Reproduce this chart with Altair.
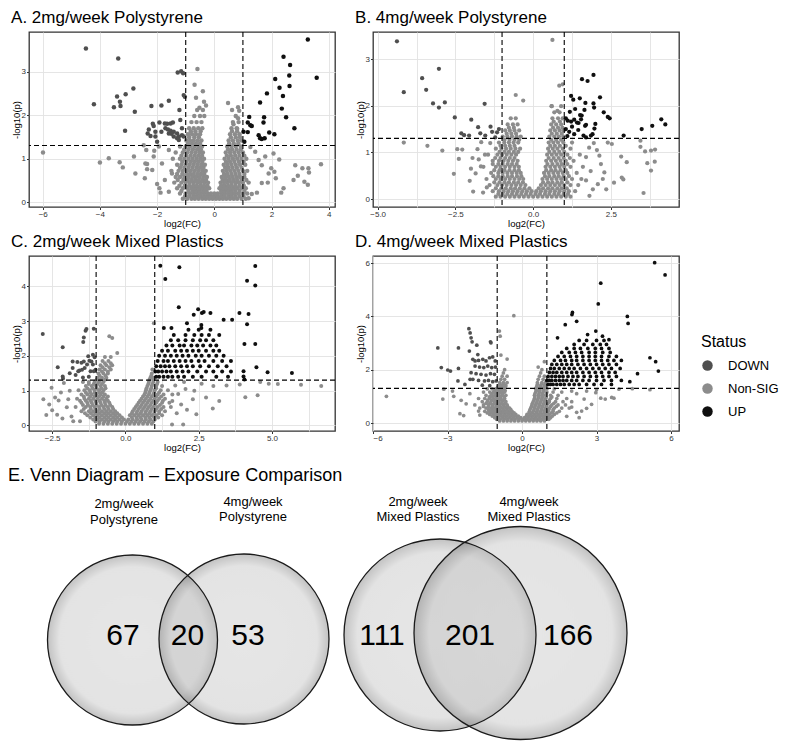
import altair as alt
import pandas as pd

STATUS = ["DOWN", "Non-SIG", "UP"]
STATUS_COLORS = ["#4f4f4f", "#8c8c8c", "#0f0f0f"]
FC_CUTS = [-1.0, 1.0]
P_CUT = [1.30103]

# ---------------- Panel A: 2mg/week Polystyrene ----------------
A_DOWN = [(-4.49,3.53),(-3.36,3.30),(-2.83,2.61),(-3.10,2.48),(-3.40,2.43),(-3.30,2.31),(-3.28,2.21),(-3.51,2.18),
          (-4.21,2.25),(-2.78,2.08),(-2.20,2.21),(-1.85,2.22),(-1.59,2.33),(-3.12,1.64),(-1.28,2.98),(-1.16,3.01),
          (-1.09,2.96),(-1.07,2.46),(-1.03,2.42),(-1.22,2.12),(-2.15,1.80),(-2.12,1.75),(-2.29,1.67),(-2.33,1.58),
          (-2.23,1.52),(-1.92,1.83),(-1.73,1.81),(-1.65,1.80),(-1.53,1.81),(-1.45,1.83),(-1.71,1.70),(-1.62,1.67),
          (-1.53,1.64),(-1.42,1.62),(-1.59,1.58),(-1.50,1.57),(-1.42,1.51),(-2.06,1.51),(-2.00,1.39),(-1.30,1.58),
          (-1.24,1.51),(-1.13,1.54),(-1.07,1.51),(-1.13,1.70),(-1.19,1.89),(-2.06,1.62),(-1.85,1.62),(-1.30,1.47),
          (-1.24,1.43)]
A_UP = [(3.27,3.74),(3.58,2.86),(2.42,3.34),(2.65,3.15),(2.62,2.91),(2.63,2.67),(2.28,2.63),(2.13,2.83),(2.40,2.44),
        (1.84,2.50),(2.36,2.15),(2.51,1.95),(2.80,1.70),(1.60,2.29),(1.22,1.96),(1.74,1.95),(1.17,1.83),(1.26,1.77),
        (1.31,1.75),(1.72,1.83),(1.02,1.62),(1.17,1.61),(1.55,1.54),(1.60,1.47),(1.76,1.47),(1.66,1.45),(1.92,1.60),
        (2.10,1.56),(1.05,1.39)]
A_NS = [(-5.99,1.14),(-4.00,0.91),(-3.69,1.01),(-3.31,0.92),(-3.20,0.80),(-2.47,1.31),(-2.38,1.20),(-2.41,0.89),
        (-2.35,0.88),(-2.43,0.55),(-2.00,0.42),(-1.92,0.32),(-1.88,0.22),(-1.73,0.51),(-2.35,0.76),(-2.10,1.18),
        (-1.94,1.28),(-0.59,3.06),(-0.69,2.70),(-0.40,2.55),(-0.64,2.40),(-0.36,2.31),(-0.52,2.17),(-0.29,2.22),
        (0.48,2.28),(0.62,2.12),(0.83,2.18),(0.87,2.10),(0.83,1.93),(0.67,1.79),(0.80,1.69),(2.83,0.85),(3.08,0.78),
        (3.29,0.78),(3.31,0.68),(3.73,0.87),(2.92,0.61),(3.15,0.47),(3.27,0.40),(2.77,0.51),(2.42,0.32),(2.34,0.22),
        (1.90,0.66),(2.15,0.55),(2.10,0.70),(1.87,0.45),(1.66,0.44),(1.49,0.22),(1.31,0.19),(1.20,0.09),(1.78,1.05),
        (2.07,1.12),(1.43,1.16),(1.55,0.97),(2.27,0.98),(1.99,0.78),(1.66,0.85),(1.26,1.27),(-2.81,1.05),(-2.76,0.66),
        (-2.12,1.05),(-1.59,1.20),(-1.83,0.89),(-1.48,0.66),(-2.17,0.74),(-1.59,0.24)]
A_NS_BANDS = {
    0.08: [-1.1,-0.95,-0.8,-0.68,-0.55,-0.42,-0.3,-0.18,-0.06,0.06,0.18,0.3,0.42,0.55,0.68,0.8,0.95,1.1],
    0.14: [-1.02,-0.88,-0.74,-0.61,-0.49,-0.36,-0.24,-0.12,0.0,0.12,0.24,0.36,0.49,0.61,0.74,0.88,1.02],
    0.20: [-1.2,-1.0,-0.85,-0.72,-0.6,-0.48,-0.36,-0.24,-0.12,0.0,0.12,0.24,0.36,0.48,0.6,0.72,0.85,1.0,1.15],
    0.26: [-1.15,-0.9,-0.76,-0.64,-0.51,-0.39,-0.27,0.24,0.36,0.48,0.6,0.73,0.88,1.05],
    0.32: [-1.3,-1.1,-0.95,-0.8,-0.67,-0.54,-0.42,-0.3,-0.18,0.18,0.3,0.42,0.54,0.67,0.8,0.95,1.1],
    0.38: [-1.22,-1.03,-0.88,-0.74,-0.61,-0.48,-0.36,-0.24,0.24,0.36,0.48,0.61,0.74,0.88,1.03],
    0.45: [-1.4,-1.15,-1.0,-0.86,-0.73,-0.6,-0.47,-0.34,-0.22,0.22,0.34,0.47,0.6,0.73,0.86,1.0,1.2],
    0.51: [-1.28,-1.08,-0.93,-0.8,-0.67,-0.54,-0.41,-0.29,0.29,0.41,0.54,0.67,0.8,0.95,1.12],
    0.58: [-1.35,-1.2,-1.05,-0.9,-0.77,-0.64,-0.51,-0.38,-0.26,0.26,0.38,0.51,0.64,0.77,0.9,1.05],
    0.65: [-1.3,-1.12,-0.98,-0.85,-0.72,-0.59,-0.47,-0.35,0.34,0.46,0.6,0.74,0.88,1.05],
    0.72: [-1.5,-1.25,-1.1,-0.95,-0.82,-0.68,-0.55,-0.42,-0.3,0.3,0.43,0.56,0.7,0.84,1.0,1.15],
    0.79: [-1.2,-1.05,-0.9,-0.76,-0.62,-0.5,-0.38,0.38,0.5,0.64,0.79,0.95],
    0.86: [-1.3,-1.15,-1.0,-0.86,-0.72,-0.58,-0.45,-0.33,0.33,0.46,0.6,0.75,0.9,1.08],
    0.93: [-1.12,-0.97,-0.82,-0.68,-0.55,-0.42,0.41,0.55,0.7,0.86,1.02],
    1.00: [-1.45,-1.2,-1.05,-0.9,-0.76,-0.62,-0.49,-0.36,0.36,0.5,0.65,0.8,0.95,1.12],
    1.07: [-1.15,-0.98,-0.83,-0.69,-0.56,-0.43,0.44,0.58,0.73,0.88,1.05],
    1.14: [-1.35,-1.1,-0.95,-0.8,-0.66,-0.52,-0.4,0.4,0.55,0.7,0.85,1.0],
    1.21: [-1.05,-0.9,-0.75,-0.6,-0.47,0.48,0.62,0.78,0.93],
    1.28: [-1.2,-1.0,-0.85,-0.7,-0.56,-0.43,0.45,0.6,0.75,0.92],
    1.35: [-0.92,-0.78,-0.64,-0.5,0.52,0.68,0.84],
    1.42: [-0.98,-0.85,-0.72,-0.58,-0.45,0.5,0.65,0.82,0.95],
    1.49: [-0.88,-0.7,-0.54,0.58,0.75,0.9],
    1.56: [-0.92,-0.78,-0.64,-0.5,0.55,0.72,0.88],
    1.63: [-0.82,-0.66,-0.48,0.62,0.8],
    1.70: [-0.88,-0.72,-0.56,-0.42,0.6,0.78],
    1.84: [-0.8,-0.62,-0.45,0.65,0.85],
    1.98: [-0.7,-0.5,-0.35,0.75],
    2.12: [-0.6,-0.4],
}

# ---------------- Panel B: 4mg/week Polystyrene ----------------
B_DOWN = [(-4.38,3.38),(-4.16,2.29),(-3.03,2.79),(-3.57,2.59),(-3.44,2.34),(-3.22,2.05),(-3.03,1.96),(-2.84,2.07),
          (-2.52,1.75),(-1.99,1.70),(-1.56,2.04),(-1.77,1.54),(-1.37,1.55),(-2.31,1.41),(-2.22,1.37),(-2.06,1.36),
          (-1.70,1.41),(-1.54,1.36),(-1.32,1.44),(-1.22,1.32),(-1.10,1.50),(-1.16,1.43)]
B_UP = [(1.57,2.57),(1.75,2.53),(1.94,2.66),(1.22,2.21),(1.29,2.13),(1.50,2.16),(1.68,2.06),(2.15,2.18),(1.94,2.05),
        (1.96,1.96),(1.35,1.93),(1.18,1.87),(1.65,1.91),(1.51,1.80),(1.56,1.79),(2.27,1.86),(2.40,1.76),(2.46,1.73),
        (1.05,1.73),(1.11,1.68),(1.22,1.66),(1.32,1.70),(1.41,1.64),(1.46,1.63),(1.54,1.71),(1.70,1.59),(2.00,1.61),
        (1.05,1.50),(1.16,1.44),(1.32,1.39),(1.45,1.48),(1.62,1.36),(1.70,1.32),(1.86,1.36),(1.91,1.39),(1.97,1.51),
        (1.67,1.57),(2.91,1.36),(3.49,1.50),(3.83,1.57),(4.12,1.71),(4.25,1.60),(1.10,1.35),(1.25,1.55)]
B_NS = [(0.62,3.41),(0.84,2.43),(0.95,2.46),(-0.56,2.23),(-0.32,2.11),(0.59,1.99),(0.78,1.89),(-4.16,1.21),
        (-3.40,1.14),(-2.92,1.04),(-2.44,1.07),(-2.28,1.06),(-2.39,0.86),(-2.55,0.54),(-2.04,0.39),(-1.93,0.16),
        (-1.61,0.14),(-1.49,0.25),(-1.79,1.07),(-1.67,1.22),(-1.75,0.85),(-2.00,0.65),(-1.85,0.55),(-1.68,0.70),
        (-1.55,0.95),(-1.95,0.88),(-1.38,1.20),(2.40,1.21),(2.53,1.18),(2.83,0.91),(3.01,0.79),(2.85,0.46),
        (2.90,0.42),(3.45,1.25),(3.45,1.12),(3.60,1.02),(3.79,1.04),(3.92,1.06),(3.67,0.77),(3.91,0.80),(3.79,0.61),
        (3.55,0.13),(2.13,0.93),(2.18,0.75),(2.29,0.57),(2.24,0.43),(2.08,0.32),(2.35,0.21),(1.92,0.21),(1.81,0.07),
        (1.80,1.10),(1.95,1.20),(2.05,1.05),(1.70,0.90),(1.85,0.60),(1.70,0.40),(2.60,0.35)]
B_NS_BANDS = {
    0.05: [-1.2,-1.05,-0.9,-0.75,-0.6,-0.45,-0.3,-0.15,0.0,0.15,0.3,0.45,0.6,0.75,0.9,1.05,1.2],
    0.11: [-1.12,-0.98,-0.83,-0.68,-0.53,-0.38,-0.23,-0.08,0.08,0.22,0.38,0.52,0.68,0.82,0.98,1.12],
    0.17: [-1.3,-1.1,-0.95,-0.8,-0.65,-0.5,-0.35,-0.2,-0.05,0.1,0.25,0.4,0.55,0.7,0.85,1.0,1.15,1.35],
    0.23: [-1.2,-1.02,-0.88,-0.72,-0.58,-0.43,-0.28,-0.12,0.18,0.32,0.48,0.62,0.78,0.92,1.08],
    0.30: [-1.4,-1.15,-1.0,-0.85,-0.7,-0.55,-0.4,-0.25,0.25,0.4,0.55,0.7,0.85,1.0,1.2,1.45],
    0.36: [-1.25,-1.08,-0.92,-0.78,-0.62,-0.48,-0.33,0.32,0.48,0.62,0.78,0.92,1.1],
    0.43: [-1.5,-1.2,-1.05,-0.9,-0.75,-0.6,-0.45,-0.32,0.3,0.45,0.6,0.75,0.9,1.05,1.25,1.55],
    0.49: [-1.28,-1.12,-0.98,-0.82,-0.68,-0.52,-0.38,0.38,0.52,0.68,0.82,0.98,1.15],
    0.56: [-1.35,-1.12,-0.98,-0.83,-0.68,-0.53,-0.4,0.35,0.5,0.65,0.8,0.95,1.1,1.4],
    0.62: [-1.25,-1.08,-0.92,-0.76,-0.6,-0.46,0.42,0.58,0.72,0.88,1.05],
    0.69: [-1.6,-1.2,-1.05,-0.9,-0.75,-0.6,-0.46,0.4,0.55,0.7,0.85,1.0,1.2,1.6],
    0.75: [-1.3,-1.12,-0.98,-0.82,-0.68,-0.53,0.46,0.62,0.78,0.92,1.1],
    0.82: [-1.3,-1.1,-0.95,-0.8,-0.65,-0.5,0.42,0.58,0.73,0.88,1.05,1.3],
    0.88: [-1.22,-1.05,-0.9,-0.75,-0.6,0.5,0.66,0.82,0.98,1.18],
    0.95: [-1.45,-1.15,-1.0,-0.85,-0.7,-0.55,0.45,0.6,0.75,0.9,1.1,1.5],
    1.01: [-1.08,-0.92,-0.78,-0.62,-0.48,0.52,0.68,0.84,1.0],
    1.08: [-1.2,-1.02,-0.87,-0.72,-0.57,-0.42,0.48,0.63,0.78,0.95,1.2],
    1.14: [-1.05,-0.9,-0.75,-0.6,0.55,0.7,0.86,1.05],
    1.21: [-1.1,-0.93,-0.78,-0.63,-0.48,0.5,0.65,0.8,0.97,1.25],
    1.27: [-0.92,-0.76,-0.6,-0.45,0.58,0.74,0.9],
    1.34: [-0.98,-0.83,-0.68,-0.53,-0.4,0.52,0.68,0.83,0.97],
    1.40: [-0.85,-0.7,-0.55,0.6,0.76,0.92],
    1.47: [-0.9,-0.75,-0.6,-0.45,0.55,0.7,0.85,0.98],
    1.53: [-0.78,-0.62,0.64,0.8,0.94],
    1.60: [-0.82,-0.65,-0.5,0.58,0.74,0.9],
    1.66: [0.66,0.86],
    1.73: [-0.72,-0.56,0.62,0.8,0.95],
    1.86: [0.68,0.85],
    1.99: [0.6,0.9],
}

# ---------------- Panel C: 2mg/week Mixed Plastics ----------------
C_DOWN = [(-2.82,2.63),(-1.36,2.72),(-1.33,2.77),(-1.08,2.78),(-1.42,2.53),(-1.44,2.40),(-1.27,1.99),(-1.11,2.03),
          (-1.05,1.96),(-1.16,1.84),(-1.23,1.86),(-1.11,1.75),(-1.31,1.75),(-1.39,1.65),(-1.48,1.60),(-1.57,1.58),
          (-1.50,1.80),(-1.42,1.84),(-1.64,1.82),(-1.80,1.84),(-1.80,1.65),(-1.61,1.56),(-1.19,1.56),(-1.08,1.56),
          (-1.02,1.60),(-2.14,2.25),(-2.31,1.67),(-2.14,1.41),(-2.13,1.35),(-1.70,1.45),(-1.90,1.50),(-1.25,1.40),
          (-1.45,1.38)]
C_UP = [(1.19,4.59),(1.84,4.55),(1.36,4.21),(4.43,4.58),(4.15,4.16),(4.43,4.02),(1.82,3.40),(2.48,3.34),(2.33,3.18),
        (2.61,3.23),(2.67,3.26),(2.90,3.23),(3.89,3.23),(4.20,3.20),(3.35,3.04),(3.64,3.04),(4.15,2.91),(2.10,2.94),
        (1.31,2.80),(1.57,2.80),(2.59,2.89),(2.59,2.80),(4.43,2.34),(4.06,2.34),(4.47,1.67),(4.85,1.53),(5.68,1.51),
        (4.03,1.56),(4.03,1.41),(4.06,1.32)]
C_UP_BANDS = {
    1.40: [1.05,1.15,1.3,1.45,1.6,1.8,2.0,2.3,2.6,3.1,3.5],
    1.55: [1.02,1.12,1.25,1.4,1.55,1.75,1.95,2.15,2.45,2.75,3.0,3.3,3.6],
    1.70: [1.05,1.2,1.35,1.5,1.7,1.9,2.1,2.3,2.55,2.85,3.15,3.45],
    1.85: [1.1,1.3,1.45,1.65,1.85,2.05,2.25,2.5,2.7,3.0,3.3,3.6],
    2.00: [1.15,1.35,1.55,1.75,1.95,2.15,2.4,2.6,2.85,3.1,3.35],
    2.15: [1.25,1.45,1.7,1.9,2.1,2.3,2.5,2.75,3.0,3.2],
    2.30: [1.4,1.6,1.85,2.0,2.25,2.45,2.65,2.9,3.1],
    2.45: [1.55,1.8,2.05,2.3,2.55,2.75,3.0],
    2.60: [1.65,2.05,2.35,2.6,2.85,3.2],
    2.75: [2.15,2.5,2.9],
}
C_NS = [(4.89,1.20),(5.20,1.19),(5.99,1.17),(6.68,1.13),(4.09,0.81),(4.51,0.87),(2.98,0.49),(2.42,0.32),(1.59,0.03),
        (1.97,0.03),(0.97,2.94),(-0.55,2.56),(-0.45,2.51),(-0.28,2.08),(4.60,1.25),(3.90,1.18),(3.45,1.15),(3.00,1.13),
        (2.60,1.20),(2.30,0.75),(2.75,0.80),(2.35,1.00),(2.05,1.05),(1.80,0.90),(1.90,0.60),(2.10,0.45),(1.75,0.35),
        (1.60,0.70),(1.70,1.15),(2.00,1.25),(3.20,0.70),(-2.52,1.08),(-2.50,0.44),(-2.33,0.31),(-2.28,0.72),
        (-2.40,0.80),(-2.20,0.95),(-2.00,0.52),(-1.84,0.26),(-1.78,0.12),(-1.55,0.12),(-2.60,0.60),(-2.70,0.30),
        (-2.10,1.22),(-1.90,1.00),(-1.95,0.75),(-2.15,0.20),(-2.80,0.75)]
C_NS_BANDS = {
    0.05: [-0.9,-0.75,-0.6,-0.45,-0.3,-0.15,0.0,0.15,0.3,0.45,0.6,0.75,0.9],
    0.11: [-1.02,-0.88,-0.72,-0.58,-0.42,-0.28,-0.12,0.05,0.2,0.35,0.5,0.65,0.8,0.95],
    0.17: [-1.1,-0.95,-0.8,-0.65,-0.5,-0.35,-0.2,-0.05,0.1,0.25,0.4,0.55,0.7,0.85,1.0],
    0.23: [-1.2,-1.02,-0.88,-0.72,-0.58,-0.42,-0.28,-0.12,0.22,0.38,0.52,0.68,0.82,0.98,1.12],
    0.29: [-1.3,-1.1,-0.95,-0.8,-0.65,-0.5,-0.35,-0.2,0.15,0.3,0.45,0.6,0.75,0.9,1.05,1.25],
    0.35: [-1.38,-1.18,-1.02,-0.88,-0.72,-0.58,-0.42,-0.28,0.22,0.38,0.52,0.68,0.82,0.98,1.15],
    0.41: [-1.5,-1.25,-1.1,-0.95,-0.8,-0.65,-0.5,-0.35,0.25,0.4,0.55,0.7,0.85,1.0,1.15,1.35],
    0.47: [-1.42,-1.18,-1.02,-0.88,-0.72,-0.58,-0.42,0.3,0.45,0.6,0.75,0.9,1.05,1.22],
    0.53: [-1.7,-1.35,-1.2,-1.05,-0.9,-0.75,-0.6,-0.45,0.35,0.5,0.65,0.8,0.95,1.1,1.3,1.55],
    0.59: [-1.45,-1.28,-1.12,-0.98,-0.82,-0.68,-0.52,0.4,0.55,0.7,0.85,1.0,1.18],
    0.65: [-1.5,-1.3,-1.15,-1.0,-0.85,-0.7,-0.55,0.45,0.6,0.75,0.9,1.05,1.25,1.5],
    0.71: [-1.55,-1.35,-1.18,-1.02,-0.88,-0.72,-0.6,0.5,0.65,0.8,0.95,1.1,1.28],
    0.77: [-1.65,-1.4,-1.25,-1.1,-0.95,-0.8,-0.65,0.55,0.7,0.85,1.0,1.15,1.35],
    0.83: [-1.42,-1.2,-1.05,-0.9,-0.75,-0.6,0.6,0.75,0.9,1.05,1.22],
    0.89: [-1.5,-1.3,-1.15,-1.0,-0.85,-0.7,0.65,0.8,0.95,1.1,1.3,1.6],
    0.95: [-1.35,-1.2,-1.05,-0.9,-0.78,0.68,0.82,0.98,1.15],
    1.01: [-1.6,-1.4,-1.22,-1.05,-0.9,-0.75,0.7,0.85,1.0,1.2,1.45],
    1.07: [-1.3,-1.12,-0.98,-0.82,-0.68,0.72,0.88,1.05],
    1.13: [-1.35,-1.15,-1.0,-0.85,-0.7,0.75,0.9,1.05,1.25],
    1.19: [-1.25,-1.08,-0.95,-0.8,0.78,0.92,1.08],
    1.25: [-1.45,-1.25,-1.05,-0.9,-0.75,0.8,0.95,1.1],
    1.31: [-0.98,-0.85,-0.7,0.82,0.95],
    1.37: [-0.95,-0.8,-0.65,0.85,0.97],
    1.43: [-0.88,-0.68,0.88],
    1.49: [-0.92,-0.75,-0.6,0.9],
    1.55: [-0.8,-0.6],
    1.61: [-0.88,-0.7,-0.5,0.92],
    1.67: [-0.78,-0.55],
    1.73: [-0.85,-0.65,-0.45],
    1.79: [-0.7,-0.5],
    1.85: [-0.78,-0.58],
    1.97: [-0.7,-0.5],
}

# ---------------- Panel D: 4mg/week Mixed Plastics ----------------
D_DOWN = [(-3.39,2.82),(-2.56,2.82),(-2.14,3.54),(-2.09,3.38),(-2.05,3.20),(-2.01,3.05),(-1.82,2.92),(-1.27,3.05),
          (-3.25,2.08),(-2.99,1.99),(-2.88,1.95),(-2.56,2.05),(-2.58,1.58),(-2.09,1.64),(-1.98,2.39),(-1.89,2.33),
          (-1.75,2.35),(-1.58,2.39),(-1.45,2.33),(-1.31,2.45),(-1.18,2.48),(-1.08,2.33),(-1.89,2.14),(-1.71,2.10),
          (-1.54,2.08),(-1.38,2.14),(-1.22,2.08),(-1.07,2.10),(-2.05,1.89),(-1.85,1.85),(-1.65,1.83),(-1.45,1.80),
          (-1.27,1.85),(-1.11,1.83),(-1.98,1.64),(-1.75,1.60),(-1.51,1.58),(-1.35,1.60),(-1.18,1.55),(-1.04,1.58),
          (-2.12,2.70),(-1.78,2.57),(-1.25,3.01),(-1.6,1.42),(-1.3,1.4),(-2.3,1.45)]
D_UP = [(5.34,6.02),(5.76,5.56),(3.17,5.25),(3.07,4.47),(2.03,4.15),(2.01,4.07),(2.20,3.82),(1.74,3.69),(4.24,4.00),
        (4.27,3.74),(5.15,2.45),(5.38,2.30),(5.49,1.95),(4.65,1.85),(4.34,1.55),(2.64,3.32),(2.97,3.45),(3.24,3.26),
        (3.50,3.13),(1.43,3.20)]
D_UP_BANDS = {
    1.45: [1.05,1.15,1.25,1.4,1.55,1.7,1.9,2.1,2.3,2.6,2.9,3.2,3.6],
    1.60: [1.0,1.1,1.2,1.35,1.5,1.65,1.8,2.0,2.2,2.45,2.7,3.0,3.3,3.6,4.0],
    1.75: [1.05,1.2,1.35,1.5,1.65,1.85,2.05,2.25,2.5,2.75,3.0,3.25,3.5,3.8],
    1.90: [1.1,1.25,1.4,1.6,1.8,2.0,2.2,2.45,2.7,2.95,3.2,3.5,3.75],
    2.05: [1.15,1.3,1.5,1.7,1.9,2.1,2.35,2.6,2.85,3.1,3.35,3.6,3.95],
    2.20: [1.2,1.4,1.6,1.8,2.0,2.25,2.5,2.75,3.0,3.25,3.5,3.8],
    2.35: [1.3,1.55,1.75,2.0,2.2,2.45,2.7,2.95,3.2,3.45,3.7,4.0],
    2.50: [1.45,1.7,1.95,2.2,2.45,2.7,2.95,3.2,3.5,3.8],
    2.65: [1.6,1.9,2.15,2.4,2.7,2.95,3.25,3.55],
    2.80: [1.8,2.1,2.35,2.65,2.95,3.2,3.5],
    2.95: [2.1,2.5,2.85,3.15,3.4],
    3.10: [2.3,2.6,3.0,3.3],
}
D_NS = [(-0.33,4.03),(-0.91,3.45),(-0.88,3.26),(-0.60,2.40),(-0.85,2.55),(0.90,2.30),(0.65,2.10),(-5.46,1.00),
        (-3.19,0.90),(-3.15,1.27),(-2.75,1.00),(-2.45,0.85),(-2.25,0.72),(-2.50,0.35),(-2.35,0.28),(-1.75,0.45),
        (-1.70,0.30),(-2.10,1.10),(-2.80,1.20),(3.17,0.93),(3.35,0.90),(3.61,0.96),(3.70,0.93),(2.97,1.14),(4.44,1.29),
        (5.15,1.25),(2.80,0.70),(2.60,0.55),(2.40,0.45),(2.20,0.40),(2.50,0.90),(2.20,1.10),(2.00,1.20),(2.60,1.20),
        (3.00,1.25),(3.90,1.27),(2.30,0.20),(1.80,0.25),(2.00,0.60)]
D_NS_BANDS = {
    0.08: [-0.9,-0.75,-0.6,-0.45,-0.3,-0.15,0.0,0.15,0.3,0.45,0.6,0.75,0.9],
    0.14: [-1.02,-0.88,-0.72,-0.58,-0.42,-0.28,-0.12,0.05,0.2,0.35,0.5,0.65,0.8,0.95,1.08],
    0.20: [-1.1,-0.95,-0.8,-0.65,-0.5,-0.35,-0.2,-0.05,0.1,0.25,0.4,0.55,0.7,0.85,1.0,1.15],
    0.26: [-1.2,-1.05,-0.9,-0.75,-0.6,-0.45,-0.3,-0.15,0.18,0.3,0.45,0.6,0.75,0.9,1.05,1.22],
    0.32: [-1.3,-1.15,-1.0,-0.85,-0.7,-0.55,-0.4,-0.25,0.2,0.35,0.5,0.65,0.8,0.95,1.1,1.3],
    0.38: [-1.4,-1.22,-1.08,-0.92,-0.78,-0.62,-0.48,-0.32,0.28,0.42,0.58,0.72,0.88,1.02,1.18,1.4],
    0.44: [-1.5,-1.3,-1.15,-1.0,-0.85,-0.7,-0.55,-0.4,0.3,0.45,0.6,0.75,0.9,1.05,1.25,1.5],
    0.50: [-1.35,-1.2,-1.05,-0.9,-0.75,-0.6,-0.45,0.32,0.48,0.62,0.78,0.92,1.08,1.25],
    0.56: [-1.7,-1.45,-1.25,-1.1,-0.95,-0.8,-0.65,-0.5,0.35,0.5,0.65,0.8,0.95,1.1,1.3,1.6,1.9],
    0.62: [-1.55,-1.35,-1.18,-1.02,-0.88,-0.72,-0.58,0.38,0.52,0.68,0.82,0.98,1.15,1.38],
    0.68: [-1.9,-1.55,-1.35,-1.2,-1.05,-0.9,-0.75,-0.6,0.4,0.55,0.7,0.85,1.0,1.2,1.45,1.75],
    0.74: [-1.45,-1.28,-1.12,-0.98,-0.82,-0.68,0.42,0.58,0.72,0.88,1.05,1.28],
    0.80: [-1.6,-1.4,-1.25,-1.1,-0.95,-0.8,-0.65,0.45,0.6,0.75,0.9,1.1,1.35,1.65,2.0],
    0.86: [-1.38,-1.2,-1.05,-0.9,-0.75,0.48,0.62,0.78,0.92,1.1],
    0.92: [-1.75,-1.5,-1.3,-1.15,-1.0,-0.85,-0.7,0.5,0.65,0.8,0.95,1.15,1.4,1.8],
    0.98: [-1.32,-1.18,-1.02,-0.88,-0.72,0.52,0.68,0.82,0.98,1.2],
    1.04: [-1.45,-1.25,-1.1,-0.95,-0.8,-0.65,0.5,0.65,0.8,0.95,1.15,1.45],
    1.10: [-1.22,-1.08,-0.92,-0.78,0.52,0.68,0.82,0.98],
    1.16: [-1.55,-1.3,-1.15,-1.0,-0.85,-0.7,0.55,0.7,0.85,1.0,1.25,1.6],
    1.22: [-1.1,-0.95,-0.82,-0.68,0.58,0.72,0.88],
    1.28: [-1.4,-1.2,-1.05,-0.9,-0.75,0.55,0.7,0.85,1.0,1.3],
    1.34: [-0.98,-0.85,-0.7,0.58,0.72,0.88],
    1.40: [-0.95,-0.8,-0.65,0.6,0.75,0.9],
    1.46: [-0.88,-0.72,0.62,0.78,0.92],
    1.52: [-0.9,-0.75,-0.6,0.62,0.8,0.95],
    1.64: [-0.85,-0.7,0.65,0.85],
    1.76: [-0.8,-0.6,0.7,0.9],
    1.88: [-0.75,0.75],
    2.00: [-0.7,0.8],
}

# ---------------- Venn ----------------
VENN_TOP = ["2mg/week", "4mg/week", "2mg/week", "4mg/week"]
VENN_SUB = ["Polystyrene", "Polystyrene", "Mixed Plastics", "Mixed Plastics"]
VENN_COUNTS = [67, 20, 53, 111, 201, 166]

FONT = "Liberation Sans"


def points_frame(ns, ns_bands, down, up, up_bands=None):
    rows = []
    for y, xs in ns_bands.items():
        for x in xs:
            rows.append((x, y, "Non-SIG"))
    for x, y in ns:
        rows.append((x, y, "Non-SIG"))
    for x, y in down:
        rows.append((x, y, "DOWN"))
    if up_bands:
        for y, xs in up_bands.items():
            for x in xs:
                rows.append((x, y, "UP"))
    for x, y in up:
        rows.append((x, y, "UP"))
    return pd.DataFrame(rows, columns=["log2FC", "nlogp", "Status"])


def make_axis(title, major, minor, fmt, title_pad, title_size):
    vals = sorted(major + minor)
    maj = "[" + ",".join(repr(float(v)) for v in major) + "]"
    return alt.Axis(
        title=title, values=vals, format=fmt,
        labelExpr=f"indexof({maj}, datum.value) >= 0 ? datum.label : ''",
        tickColor={"condition": {"test": f"indexof({maj}, datum.value) < 0", "value": "transparent"},
                   "value": "#333333"},
        grid=True, gridColor="#e2e2e2", gridWidth=0.9, domain=False,
        tickSize=2.5, tickWidth=1, labelFontSize=8, labelColor="#333333", labelPadding=1,
        titleFontSize=title_size, titleFontWeight="normal", titleColor="black", titlePadding=title_pad,
    )


def panel(df, title, xdom, xmaj, xmin, xfmt, ydom, ymaj, ymin, size, legend):
    xs = alt.Scale(domain=xdom, nice=False, zero=False)
    ys = alt.Scale(domain=ydom, nice=False, zero=False)
    pts = alt.Chart(df).mark_circle(size=size, opacity=1).encode(
        x=alt.X("log2FC:Q", scale=xs, axis=make_axis("log2(FC)", xmaj, xmin, xfmt, 0, 9.5)),
        y=alt.Y("nlogp:Q", scale=ys, axis=make_axis("-log10(p)", ymaj, ymin, "d", 0, 9.5)),
        color=alt.Color("Status:N", scale=alt.Scale(domain=STATUS, range=STATUS_COLORS), legend=legend),
    )
    vr = alt.Chart(pd.DataFrame({"log2FC": FC_CUTS})).mark_rule(
        color="black", strokeDash=[5, 3], strokeWidth=1.1).encode(x=alt.X("log2FC:Q", scale=xs))
    hr = alt.Chart(pd.DataFrame({"nlogp": P_CUT})).mark_rule(
        color="black", strokeDash=[5, 3], strokeWidth=1.1).encode(y=alt.Y("nlogp:Q", scale=ys))
    return alt.layer(pts, vr, hr).properties(
        width=306, height=175,
        title=alt.TitleParams(title, anchor="start", frame="bounds", fontSize=17, fontWeight="normal",
                              font=FONT, color="black", offset=4),
        view=alt.ViewBackground(stroke="#333333", strokeWidth=1.3),
    )


legend_d = alt.Legend(title="Status", orient="none", legendX=328, legendY=78, titleFontSize=16,
                      titleFontWeight="normal", titleColor="black", labelFontSize=13, labelColor="black",
                      symbolSize=110, symbolType="circle", rowPadding=9, titlePadding=9, labelOffset=14,
                      symbolStrokeWidth=0, titleFont=FONT, labelFont=FONT)

pA = panel(points_frame(A_NS, A_NS_BANDS, A_DOWN, A_UP), "A. 2mg/week Polystyrene",
           [-6.48, 4.22], [-6, -4, -2, 0, 2, 4], [-5, -3, -1, 1, 3], "d",
           [-0.11, 3.91], [0, 1, 2, 3], [0.5, 1.5, 2.5, 3.5], 20, None)
pB = panel(points_frame(B_NS, B_NS_BANDS, B_DOWN, B_UP), "B. 4mg/week Polystyrene",
           [-5.15, 4.69], [-5.0, -2.5, 0.0, 2.5], [-3.75, -1.25, 1.25, 3.75], ".1f",
           [-0.17, 3.58], [0, 1, 2, 3], [0.5, 1.5, 2.5, 3.5], 18, None)
pC = panel(points_frame(C_NS, C_NS_BANDS, C_DOWN, C_UP, C_UP_BANDS), "C. 2mg/week Mixed Plastics",
           [-3.29, 7.15], [-2.5, 0.0, 2.5, 5.0], [-1.25, 1.25, 3.75, 6.25], ".1f",
           [-0.16, 4.87], [0, 1, 2, 3, 4], [0.5, 1.5, 2.5, 3.5, 4.5], 16, None)
pD = panel(points_frame(D_NS, D_NS_BANDS, D_DOWN, D_UP, D_UP_BANDS), "D. 4mg/week Mixed Plastics",
           [-6.0, 6.32], [-6, -3, 0, 3, 6], [-4.5, -1.5, 1.5, 4.5], "d",
           [-0.3, 6.27], [0, 2, 4, 6], [1, 3, 5], 14, legend_d)

# ---------------- Venn layout (pixel layout inside the venn view) ----------------
VW, VH = 640, 258
VX0, VY0 = 29, 488
circles = pd.DataFrame({
    "cx": [132.5 - VX0, 244 - VX0, 440 - VX0, 520.5 - VX0],
    "cy": [641 - VY0, 640 - VY0, 636 - VY0, 634 - VY0],
    "r": [85, 85, 96, 106.5],
})
circles["area"] = (2 * circles["r"]) ** 2
counts = pd.DataFrame({
    "cx": [123 - VX0, 187.5 - VX0, 248 - VX0, 382 - VX0, 470 - VX0, 568 - VX0],
    "cy": [637 - VY0] * 6,
    "label": [str(v) for v in VENN_COUNTS],
})
lab_x = [124 - VX0, 253 - VX0, 418 - VX0, 529 - VX0]
lab_y1 = [505 - VY0, 503 - VY0, 503 - VY0, 503 - VY0]
lab_y2 = [521 - VY0, 518 - VY0, 518 - VY0, 518 - VY0]
labels = pd.DataFrame({
    "cx": lab_x + lab_x,
    "cy": lab_y1 + lab_y2,
    "label": VENN_TOP + VENN_SUB,
})

vxs = alt.Scale(domain=[0, VW], nice=False, zero=False)
vys = alt.Scale(domain=[0, VH], nice=False, zero=False, reverse=True)
grad = alt.RadialGradient(gradient="radial", stops=[
    alt.GradientStop(offset=0, color="#c4c4c4"),
    alt.GradientStop(offset=0.86, color="#bdbdbd"),
    alt.GradientStop(offset=1, color="#6e6e6e"),
])
venn_base = alt.Chart(circles).encode(
    x=alt.X("cx:Q", scale=vxs, axis=None),
    y=alt.Y("cy:Q", scale=vys, axis=None),
    size=alt.Size("area:Q", scale=None, legend=None),
)
fills = venn_base.mark_circle(fill=grad, fillOpacity=0.42, opacity=1)
rims = venn_base.mark_point(shape="circle", filled=False, stroke="#1a1a1a", strokeWidth=1.3, opacity=1)
nums = alt.Chart(counts).mark_text(fontSize=30, font=FONT, color="black", align="center", baseline="middle").encode(
    x=alt.X("cx:Q", scale=vxs, axis=None), y=alt.Y("cy:Q", scale=vys, axis=None), text="label:N")
labs = alt.Chart(labels).mark_text(fontSize=13, font=FONT, color="black", align="center", baseline="middle").encode(
    x=alt.X("cx:Q", scale=vxs, axis=None), y=alt.Y("cy:Q", scale=vys, axis=None), text="label:N")
venn = alt.layer(fills, rims, nums, labs).properties(
    width=VW, height=VH,
    title=alt.TitleParams("E. Venn Diagram \u2013 Exposure Comparison", anchor="start", frame="bounds",
                          fontSize=18, fontWeight="normal", font=FONT, color="black", offset=2, dx=-21),
    view=alt.ViewBackground(stroke="transparent"),
)

row1 = alt.hconcat(pA, pB, spacing=17).resolve_scale(color="independent")
row2 = alt.hconcat(pC, pD, spacing=17).resolve_scale(color="independent")
plots = alt.vconcat(row1, row2, spacing=3).resolve_scale(color="independent")
chart = alt.vconcat(plots, venn, spacing=14).resolve_scale(color="independent").properties(
    padding=0, background="white"
).configure(font=FONT).configure_view(strokeWidth=0)

chart.save("out.html", embed_options={"renderer": "svg", "actions": False})
